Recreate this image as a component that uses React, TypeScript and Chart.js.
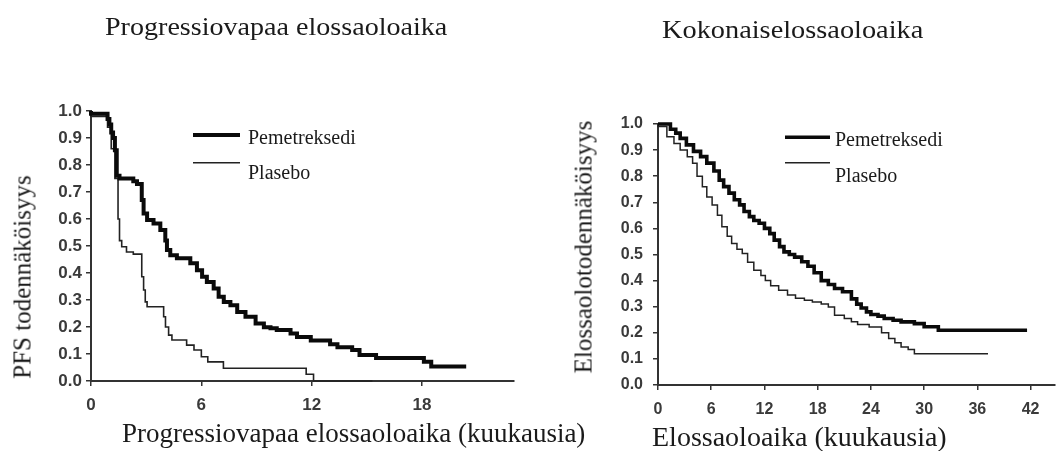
import React, { useEffect, useRef } from "react";
import { Chart, registerables } from "chart.js";

Chart.register(...registerables);

// ---------- DATA ----------
const seriesLabels = ["Pemetreksedi", "Plasebo"];

const pfsTitle = "Progressiovapaa elossaoloaika";
const osTitle = "Kokonaiselossaoloaika";
const pfsXTitle = "Progressiovapaa elossaoloaika (kuukausia)";
const osXTitle = "Elossaoloaika (kuukausia)";
const pfsYTitle = "PFS todennäköisyys";
const osYTitle = "Elossaolotodennäköisyys";

const pfsXTicks = [0, 6, 12, 18];
const osXTicks = [0, 6, 12, 18, 24, 30, 36, 42];

// PFS – Pemetreksedi (months, survival)
const pfsPemMonths = [0, 0.9, 1.0, 1.1, 1.2, 1.3, 1.4, 1.55, 2.3, 2.5, 2.76, 2.86, 3.05, 3.4, 3.77, 4.04, 4.13, 4.31, 4.67, 5.4, 5.76, 6.04, 6.3, 6.67, 6.94, 7.22, 7.58, 7.95, 8.4, 8.95, 9.4, 9.76, 10.1, 10.85, 11.2, 11.95, 13.0, 13.4, 14.2, 14.6, 15.5, 18.1, 18.5, 18.9, 20.4];
const pfsPemSurv = [1.0, 0.99, 0.97, 0.95, 0.92, 0.9, 0.855, 0.76, 0.75, 0.74, 0.73, 0.67, 0.62, 0.596, 0.583, 0.559, 0.52, 0.485, 0.466, 0.455, 0.436, 0.41, 0.386, 0.367, 0.343, 0.312, 0.293, 0.281, 0.256, 0.238, 0.213, 0.199, 0.195, 0.189, 0.176, 0.163, 0.15, 0.136, 0.125, 0.115, 0.096, 0.085, 0.071, 0.054, 0.054];

// PFS – Plasebo
const pfsPlaMonths = [0, 0.9, 1.1, 1.3, 1.47, 1.55, 1.67, 1.93, 2.3, 2.76, 2.86, 2.95, 3.05, 3.95, 4.05, 4.22, 4.4, 5.2, 5.6, 6.0, 6.35, 7.2, 11.7, 11.9, 12.1, 15.3];
const pfsPlaSurv = [1.0, 0.98, 0.94, 0.86, 0.75, 0.6, 0.52, 0.497, 0.478, 0.47, 0.386, 0.337, 0.293, 0.275, 0.238, 0.2, 0.17, 0.152, 0.133, 0.115, 0.09, 0.071, 0.047, 0.025, 0.025, 0.0];

// OS – Pemetreksedi
const osPemMonths = [0, 1.4, 2.0, 2.5, 3.2, 4.0, 4.8, 5.5, 6.3, 6.9, 7.4, 8.0, 8.6, 9.2, 9.7, 10.3, 10.8, 11.4, 12.0, 12.6, 13.1, 13.7, 14.2, 14.8, 15.4, 16.2, 16.9, 17.6, 18.4, 19.2, 19.9, 20.8, 21.8, 22.4, 22.9, 23.5, 24.0, 24.8, 25.5, 26.5, 27.4, 28.9, 30.0, 31.6, 33.7, 41.6];
const osPemSurv = [1.0, 1.0, 0.98, 0.965, 0.945, 0.92, 0.895, 0.875, 0.85, 0.82, 0.785, 0.76, 0.735, 0.71, 0.69, 0.665, 0.645, 0.63, 0.62, 0.6, 0.58, 0.555, 0.53, 0.51, 0.5, 0.49, 0.472, 0.455, 0.43, 0.4, 0.385, 0.37, 0.357, 0.33, 0.31, 0.295, 0.28, 0.27, 0.264, 0.255, 0.248, 0.242, 0.235, 0.223, 0.21, 0.21];

// OS – Plasebo
const osPlaMonths = [0, 1.0, 1.8, 2.5, 3.3, 3.9, 4.4, 5.0, 5.5, 6.1, 6.7, 7.2, 7.8, 8.3, 8.9, 9.5, 10.1, 10.8, 11.6, 12.1, 12.7, 13.6, 14.6, 15.5, 16.5, 17.4, 18.4, 19.2, 19.9, 21.0, 21.8, 22.5, 23.8, 25.2, 26.0, 26.7, 27.4, 28.2, 28.9, 31.2, 37.2];
const osPlaSurv = [1.0, 0.99, 0.951, 0.925, 0.9, 0.875, 0.85, 0.8, 0.76, 0.72, 0.69, 0.65, 0.606, 0.57, 0.542, 0.52, 0.504, 0.47, 0.44, 0.42, 0.4, 0.38, 0.363, 0.345, 0.332, 0.325, 0.318, 0.31, 0.299, 0.267, 0.255, 0.242, 0.232, 0.222, 0.2, 0.178, 0.162, 0.146, 0.136, 0.12, 0.12];

// ---------- HELPERS ----------
const toPoints = (xs: number[], ys: number[]) => xs.map((x, i) => ({ x, y: ys[i] }));

const kmLegend = {
  id: "kmLegend",
  afterDraw(chart: any, _args: any, opts: any) {
    const ctx = chart.ctx;
    ctx.save();
    chart.data.datasets.forEach((ds: any, i: number) => {
      const row = opts.rows[i];
      ctx.strokeStyle = ds.borderColor;
      ctx.lineWidth = ds.borderWidth;
      ctx.beginPath();
      ctx.moveTo(opts.x1, row.lineY);
      ctx.lineTo(opts.x2, row.lineY);
      ctx.stroke();
      ctx.fillStyle = "#1a1a1a";
      ctx.font = opts.font;
      ctx.textBaseline = "alphabetic";
      ctx.textAlign = "left";
      ctx.fillText(ds.label, opts.textX, row.textY);
    });
    ctx.restore();
  },
};

type PanelCfg = {
  pem: { x: number; y: number }[];
  pla: { x: number; y: number }[];
  xTicks: number[];
  xMax: number;
  yWidth: number;
  padTop: number;
  padBottom: number;
  padRight: number;
  xHeight: number;
  tickFont: number;
  yPad: number;
  xPad: number;
  thick: number;
  thin: number;
  legend: any;
};

function buildChart(canvas: HTMLCanvasElement, c: PanelCfg) {
  const axisColor = "#333";
  return new Chart(canvas, {
    type: "line",
    data: {
      datasets: [
        {
          label: seriesLabels[0],
          data: c.pem,
          borderColor: "#0a0a0a",
          borderWidth: c.thick,
          stepped: "after",
          pointRadius: 0,
          fill: false,
          clip: 6,
        } as any,
        {
          label: seriesLabels[1],
          data: c.pla,
          borderColor: "#222",
          borderWidth: c.thin,
          stepped: "after",
          pointRadius: 0,
          fill: false,
          clip: 6,
        } as any,
      ],
    },
    options: {
      animation: false,
      responsive: false,
      events: [],
      layout: {
        autoPadding: false,
        padding: { top: c.padTop, bottom: c.padBottom, left: 0, right: c.padRight },
      },
      plugins: {
        legend: { display: false },
        tooltip: { enabled: false },
        kmLegend: c.legend,
      } as any,
      scales: {
        x: {
          type: "linear",
          min: 0,
          max: c.xMax,
          afterBuildTicks: (s: any) => {
            s.ticks = c.xTicks.map((v) => ({ value: v }));
          },
          afterFit: (s: any) => {
            s.height = c.xHeight;
          },
          ticks: {
            autoSkip: false,
            maxRotation: 0,
            padding: c.xPad,
            color: "#3a3a3a",
            font: { family: "'Liberation Sans', Arial, sans-serif", size: c.tickFont, weight: "bold" },
            callback: (v: any) => String(v),
          },
          grid: {
            display: true,
            drawOnChartArea: false,
            drawTicks: true,
            tickLength: 5,
            color: axisColor,
            lineWidth: 1.5,
          },
          border: { display: true, color: axisColor, width: 2 },
        },
        y: {
          type: "linear",
          min: 0,
          max: 1,
          afterFit: (s: any) => {
            s.width = c.yWidth;
          },
          ticks: {
            stepSize: 0.1,
            padding: c.yPad,
            color: "#3a3a3a",
            font: { family: "'Liberation Sans', Arial, sans-serif", size: c.tickFont, weight: "bold" },
            callback: (v: any) => Number(v).toFixed(1),
          },
          grid: {
            display: true,
            drawOnChartArea: false,
            drawTicks: true,
            tickLength: 5,
            color: axisColor,
            lineWidth: 1.5,
          },
          border: { display: true, color: axisColor, width: 2 },
        },
      },
    } as any,
    plugins: [kmLegend as any],
  });
}

const serif = "'Liberation Serif', 'Times New Roman', serif";

const textStyle = (left: number, top: number, size: number, scaleX = 1): React.CSSProperties => ({
  position: "absolute",
  left,
  top,
  fontFamily: serif,
  fontSize: size,
  lineHeight: `${size}px`,
  color: "#1a1a1a",
  whiteSpace: "nowrap",
  transform: scaleX !== 1 ? `scaleX(${scaleX})` : undefined,
  transformOrigin: "left top",
});

const vTextStyle = (cx: number, cy: number, size: number): React.CSSProperties => ({
  position: "absolute",
  left: cx,
  top: cy,
  fontFamily: serif,
  fontSize: size,
  lineHeight: `${size}px`,
  color: "#1a1a1a",
  whiteSpace: "nowrap",
  transform: "translate(-50%, -50%) rotate(-90deg)",
  transformOrigin: "center center",
});

export default function App() {
  const leftRef = useRef<HTMLCanvasElement>(null);
  const rightRef = useRef<HTMLCanvasElement>(null);

  useEffect(() => {
    const left = buildChart(leftRef.current!, {
      pem: toPoints(pfsPemMonths, pfsPemSurv),
      pla: toPoints(pfsPlaMonths, pfsPlaSurv),
      xTicks: pfsXTicks,
      xMax: 23,
      yWidth: 91,
      padTop: 111,
      padBottom: 30,
      padRight: 26,
      xHeight: 40,
      tickFont: 17,
      yPad: 4,
      xPad: 9,
      thick: 4,
      thin: 1.6,
      legend: {
        x1: 193,
        x2: 240,
        textX: 248,
        font: `20px ${serif}`,
        rows: [
          { lineY: 135, textY: 144 },
          { lineY: 162.7, textY: 179 },
        ],
      },
    });
    const right = buildChart(rightRef.current!, {
      pem: toPoints(osPemMonths, osPemSurv),
      pla: toPoints(osPlaMonths, osPlaSurv),
      xTicks: osXTicks,
      xMax: 44.75,
      yWidth: 118,
      padTop: 124,
      padBottom: 26,
      padRight: 1,
      xHeight: 40,
      tickFont: 16,
      yPad: 10,
      xPad: 10,
      thick: 3.6,
      thin: 1.5,
      legend: {
        x1: 245,
        x2: 290,
        textX: 295,
        font: `20px ${serif}`,
        rows: [
          { lineY: 137.3, textY: 146 },
          { lineY: 162.7, textY: 181.7 },
        ],
      },
    });
    return () => {
      left.destroy();
      right.destroy();
    };
  }, []);

  return (
    <div
      style={{
        position: "absolute",
        left: 0,
        top: 0,
        width: 1056,
        height: 451,
        overflow: "hidden",
        background: "#fff",
      }}
    >
      <canvas ref={leftRef} width={540} height={451} style={{ position: "absolute", left: 0, top: 0 }} />
      <canvas ref={rightRef} width={516} height={451} style={{ position: "absolute", left: 540, top: 0 }} />
      <div style={textStyle(105, 14, 26, 1.08)}>{pfsTitle}</div>
      <div style={textStyle(662, 17, 26, 1.09)}>{osTitle}</div>
      <div style={textStyle(122, 420, 27)}>{pfsXTitle}</div>
      <div style={textStyle(652, 423, 28)}>{osXTitle}</div>
      <div style={vTextStyle(22, 277, 25)}>{pfsYTitle}</div>
      <div style={vTextStyle(583, 247, 25)}>{osYTitle}</div>
    </div>
  );
}
